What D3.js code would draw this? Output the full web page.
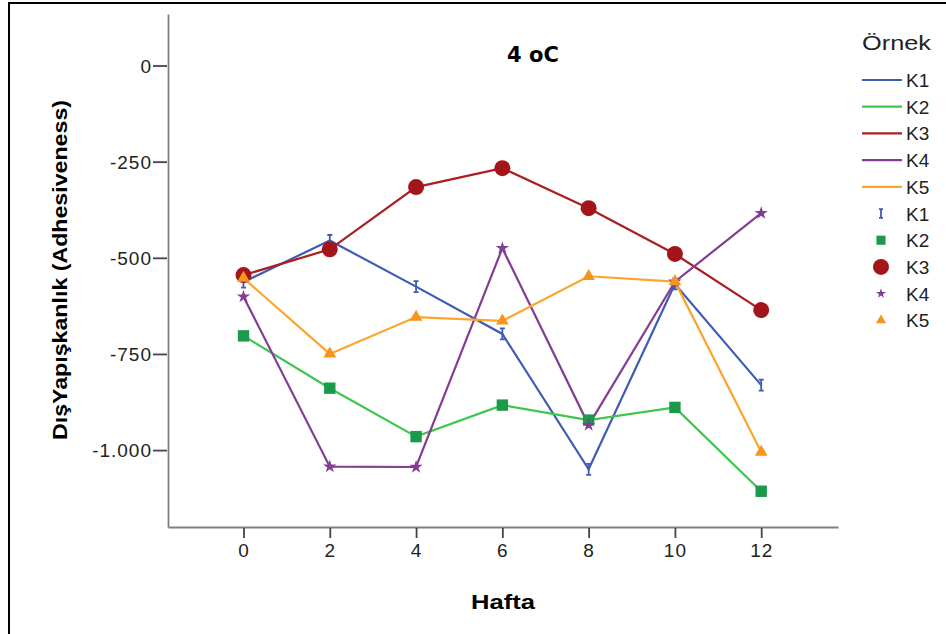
<!DOCTYPE html>
<html>
<head>
<meta charset="utf-8">
<script src="https://cdn.jsdelivr.net/npm/d3@7"></script>
<style>
  body { margin: 0; background: #fff; }
  text { font-family: "Liberation Sans", Arial, sans-serif; }
</style>
</head>
<body>
<script>
const width = 946;
const height = 634;

// Hafta (week)
const weeks = [0, 2, 4, 6, 8, 10, 12];
const series = ["K1", "K2", "K3", "K4", "K5"];

const k1 = [-563, -455, -575, -698, -1050, -568, -831];
const k2 = [-703, -839, -965, -883, -922, -889, -1107];
const k3 = [-545, -478, -316, -267, -371, -490, -636];
const k4 = [-601, -1043, -1044, -475, -935, -562, -384];
const k5 = [-553, -750, -654, -664, -548, -562, -1005];

const yTicks = [0, -250, -500, -750, -1000];

const lineColor = { K1: "#3f5bb3", K2: "#3ec64a", K3: "#a91e22", K4: "#833d93", K5: "#fba62b" };
const markColor = { K1: "#3f5bb3", K2: "#1a9a4a", K3: "#a31518", K4: "#833d93", K5: "#f7941d" };
const values = { K1: k1, K2: k2, K3: k3, K4: k4, K5: k5 };

const trLocale = d3.formatLocale({ decimal: ",", thousands: ".", grouping: [3], currency: ["", "TL"], minus: "-" });
const fmt = trLocale.format(",d");

const svg = d3.select("body").append("svg")
  .attr("width", width)
  .attr("height", height);

// outer frame
svg.append("rect")
  .attr("x", 9).attr("y", 3)
  .attr("width", width + 10).attr("height", height + 10)
  .attr("fill", "none").attr("stroke", "#000").attr("stroke-width", 2);

const plotLeft = 168, plotRight = 838, plotTop = 14, plotBottom = 527;

const x = d3.scaleLinear().domain([-1.75, 13.78]).range([plotLeft, plotRight]);
const y = d3.scaleLinear().domain([-1200, 134]).range([plotBottom, plotTop]);

// axes
const yAxis = svg.append("g")
  .attr("transform", `translate(${plotLeft},0)`)
  .call(d3.axisLeft(y).tickValues(yTicks).tickFormat(fmt).tickSize(15).tickSizeOuter(0).tickPadding(1));
const xAxis = svg.append("g")
  .attr("transform", `translate(0,${plotBottom})`)
  .call(d3.axisBottom(x).tickValues(weeks).tickSize(11).tickSizeOuter(0).tickPadding(6));

[yAxis, xAxis].forEach(g => {
  g.select(".domain").attr("stroke", "#808080").attr("stroke-width", 1.8);
  g.selectAll(".tick line").attr("stroke", "#444").attr("stroke-width", 1.8);
  g.selectAll(".tick text")
    .attr("fill", "#222")
    .style("font-size", "19px")
    .style("letter-spacing", "1px")
    .style("font-family", "'Liberation Sans', Arial, sans-serif");
});
yAxis.selectAll(".tick line").attr("x1", -1);
yAxis.selectAll(".tick text").attr("dy", "0.36em");
xAxis.selectAll(".tick line").attr("y1", 1);

// titles
svg.append("text")
  .attr("x", 533).attr("y", 62)
  .attr("text-anchor", "middle")
  .style("font-family", "'DejaVu Sans', Verdana, sans-serif")
  .style("font-weight", "bold").style("font-size", "21px")
  .text("4 oC");

svg.append("text")
  .attr("x", 471).attr("y", 609)
  .attr("textLength", 64).attr("lengthAdjust", "spacingAndGlyphs")
  .style("font-weight", "bold").style("font-size", "21px")
  .text("Hafta");

svg.append("text")
  .attr("transform", "translate(67,440) rotate(-90)")
  .attr("textLength", 340).attr("lengthAdjust", "spacingAndGlyphs")
  .style("font-weight", "bold").style("font-size", "21px")
  .text("DışYapışkanlık (Adhesiveness)");

// lines
const line = d3.line().x((d, i) => x(weeks[i])).y(d => y(d));
const chart = svg.append("g");
series.forEach(s => {
  chart.append("path")
    .datum(values[s])
    .attr("fill", "none")
    .attr("stroke", lineColor[s])
    .attr("stroke-width", 2.2)
    .attr("d", line);
});

// marker shapes
function drawMarker(g, s, cx, cy, scale) {
  const k = scale || 1;
  if (s === "K1") {
    const h = 5.5 * k, w = 2.5 * k;
    g.append("path")
      .attr("d", `M${cx - w},${cy - h}H${cx + w}M${cx},${cy - h}V${cy + h}M${cx - w},${cy + h}H${cx + w}`)
      .attr("stroke", markColor[s]).attr("stroke-width", 1.8).attr("fill", "none");
  } else if (s === "K2") {
    g.append("path")
      .attr("d", d3.symbol(d3.symbolSquare, 130 * k * k)())
      .attr("transform", `translate(${cx},${cy})`)
      .attr("fill", markColor[s]);
  } else if (s === "K3") {
    g.append("circle").attr("cx", cx).attr("cy", cy).attr("r", 8 * k)
      .attr("fill", markColor[s]);
  } else if (s === "K4") {
    g.append("path")
      .attr("d", d3.symbol(d3.symbolStar, 55 * k * k)())
      .attr("transform", `translate(${cx},${cy})`)
      .attr("fill", markColor[s]);
  } else {
    g.append("path")
      .attr("d", d3.symbol(d3.symbolTriangle, 70 * k * k)())
      .attr("transform", `translate(${cx},${cy})`)
      .attr("fill", markColor[s]);
  }
}

series.forEach(s => {
  values[s].forEach((v, i) => drawMarker(chart, s, x(weeks[i]), y(v)));
});

// legend
const lg = svg.append("g");
lg.append("text")
  .attr("x", 862).attr("y", 50)
  .attr("textLength", 69).attr("lengthAdjust", "spacingAndGlyphs")
  .style("font-size", "20px").attr("fill", "#222")
  .text("Örnek");

const rowH = 26.7;
series.forEach((s, i) => {
  const cy = 80 + i * rowH;
  lg.append("line")
    .attr("x1", 862).attr("x2", 902).attr("y1", cy).attr("y2", cy)
    .attr("stroke", lineColor[s]).attr("stroke-width", 2.2);
  lg.append("text")
    .attr("x", 906).attr("y", cy + 7)
    .style("font-size", "19px").attr("fill", "#222")
    .text(s);
});
series.forEach((s, i) => {
  const cy = 80 + (i + 5) * rowH;
  const sc = s === "K4" ? 0.75 : (s === "K3" ? 1 : 0.8);
  drawMarker(lg, s, 881, cy, sc);
  lg.append("text")
    .attr("x", 906).attr("y", cy + 7)
    .style("font-size", "19px").attr("fill", "#222")
    .text(s);
});
</script>
</body>
</html>
